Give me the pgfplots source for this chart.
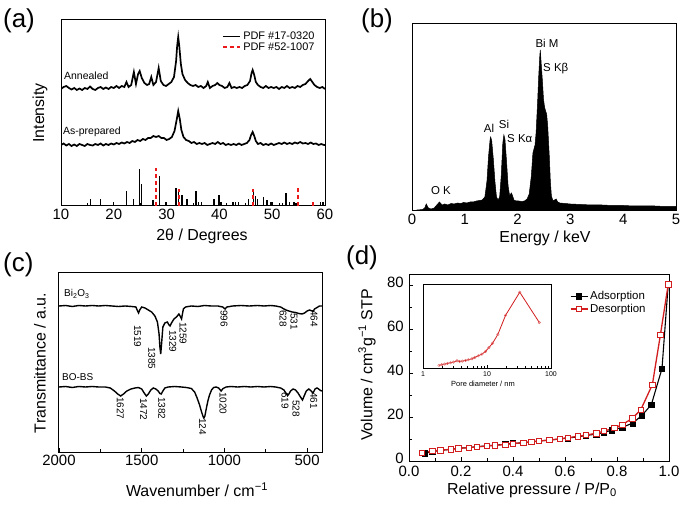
\documentclass[border=0pt]{standalone}
\usepackage{fontspec}
\setmainfont{Liberation Sans}
\usepackage{pgfplots}
\pgfplotsset{compat=1.18}

\definecolor{pdfred}{RGB}{235,25,25}
\definecolor{desred}{RGB}{210,30,30}

\pgfplotsset{
  panel/.style={
    scale only axis, anchor=south west,
    axis line style={line width=1pt},
    tick align=inside,
    xtick pos=left, ytick pos=left,
    major tick length=4bp, minor tick length=2.5bp,
    every tick/.style={line width=0.8pt, black},
    tick label style={font=\fontsize{15}{17}\selectfont},
    /pgf/number format/assume math mode=true,
    /pgf/number format/1000 sep={},
    axis background/.style={fill=white},
  },
}

\begin{document}
\begin{tikzpicture}
\useasboundingbox (0,0) rectangle (685bp,506bp);

% ---------------- (a) XRD
\begin{axis}[panel, at={(61bp,300bp)}, width=264bp, height=186bp,
  xmin=10, xmax=60, ymin=0, ymax=186,
  xtick={10,20,...,60}, minor x tick num=1, ytick=\empty,
  legend style={at={(0.98,0.96)}, anchor=north east, draw=none, fill=none,
    font=\fontsize{11}{13}\selectfont, row sep=-2pt},
  legend cell align=left]
\addlegendimage{black, line width=1.3pt}
\addlegendentry{PDF \#17-0320}
\addlegendimage{color=pdfred, draw=pdfred, line width=2pt, dash pattern=on 4bp off 3bp}
\addlegendentry{PDF \#52-1007}
% annealed
\addplot[black, line width=1.7pt, forget plot] coordinates {
(10,117) (10.5,119) (11,120) (11.5,118) (12,116.5) (12.5,118) (13,116) (13.5,117.5)
(14,116) (14.5,118) (15,117) (15.5,119.5) (16,117) (16.5,116) (17,118) (17.5,119)
(18,117) (18.5,118.5) (19,117) (19.5,119) (20,118) (20.5,120) (21,118) (21.5,120)
(22,119) (22.4,124) (22.8,119) (23.3,121) (23.8,134) (24.2,122) (24.6,132) (24.9,135)
(25.3,128) (25.8,123) (26.3,121) (26.7,122) (27.1,129) (27.5,121) (28.0,124) (28.5,138)
(28.9,125) (29.4,121) (29.9,120) (30.4,122) (30.9,124) (31.4,129) (31.8,145) (32.0,160)
(32.2,169) (32.4,160) (32.7,142) (33.0,132) (33.5,126) (34,123) (34.5,121) (35,120)
(35.5,121) (36,119) (36.5,120) (37,118) (37.5,120) (37.8,124) (38.2,118) (38.7,120)
(39.2,121) (39.6,123) (40,121) (40.5,120) (41,118) (41.5,119) (41.9,123) (42.3,118)
(42.8,119) (43.3,118) (43.8,119) (44.3,118) (44.8,120) (45.3,121) (45.8,125) (46.1,133)
(46.3,136) (46.6,131) (46.9,124) (47.3,121) (47.8,119) (48.3,118) (48.8,120) (49.3,118)
(49.8,119) (50.3,118) (50.8,119) (51.3,117) (51.8,119) (52.3,118) (52.8,120) (53.3,118)
(53.8,119) (54.3,118) (54.8,120) (55.3,119) (55.8,121) (56.3,122) (56.8,125) (57.2,127)
(57.6,124) (58.0,121) (58.5,119) (59,118) (59.5,119) (60,117)};
% as-prepared
\addplot[black, line width=1.7pt, forget plot] coordinates {
(10,61) (10.5,62.5) (11,60.5) (11.5,62) (12,60) (12.5,61.5) (13,60) (13.5,62) (14,61)
(14.5,60) (15,62) (15.5,61) (16,60.5) (16.5,62) (17,61) (17.5,62.5) (18,60.5) (18.5,62)
(19,61) (19.5,62.5) (20,61.5) (20.5,63) (21,62) (21.5,63.5) (22,62.5) (22.5,64) (23,63)
(23.5,65) (24,64) (24.5,66) (25,65) (25.5,67) (26,66) (26.5,68) (27,68) (27.5,70) (28,69)
(28.5,70) (29,68) (29.5,68) (30,66) (30.5,67) (31,69) (31.5,75) (31.9,86) (32.2,95)
(32.5,87) (32.8,76) (33.2,69) (33.7,66) (34.2,65) (34.7,63) (35.2,64) (35.7,62) (36.2,63)
(36.7,62) (37.2,63) (37.7,61) (38.2,62) (38.7,63) (39.2,62) (39.7,64) (40.2,62) (40.7,63)
(41.2,61) (41.7,62) (42.2,61) (42.7,62) (43.2,61) (43.7,62.5) (44.2,61) (44.7,62) (45.2,63)
(45.7,66) (46.0,71) (46.3,74) (46.6,70) (46.9,65) (47.3,62) (47.8,63) (48.3,61) (48.8,62)
(49.3,61) (49.8,62.5) (50.3,61) (50.8,62) (51.3,63) (51.8,62) (52.3,63.5) (52.8,62)
(53.3,63) (53.8,62) (54.3,63.5) (54.8,62.5) (55.3,64) (55.8,62.5) (56.3,63) (56.8,62)
(57.3,63.5) (57.8,62) (58.3,62.5) (58.8,61) (59.3,62) (59.8,61) (60,61)};
% PDF #17-0320 sticks
\addplot[ycomb, black, line width=1.4pt, forget plot] coordinates {
(11,1) (15.6,7) (17.5,7) (19.9,4) (22.4,15) (23.7,7) (24.9,37) (25.2,22) (27.4,6)
(28.6,30) (29.9,4) (31.8,18) (32.2,15) (32.9,11) (33.9,7) (35.6,15) (36.0,4) (36.6,4)
(39.0,7) (39.9,11) (40.3,4) (41.3,3) (42.6,4) (43.0,4) (43.6,4) (45.5,7) (46.5,14)
(46.8,10) (47.2,7) (48.3,9) (49.0,6) (49.8,4) (50.1,4) (51.4,3) (52.0,3) (52.6,13)
(53.3,4) (54.1,4) (54.5,3) (57.6,2) (59.2,4) (59.6,4)};
% PDF #52-1007 sticks
\addplot[ycomb, color=pdfred, draw=pdfred, line width=2pt, dash pattern=on 4bp off 3bp, forget plot] coordinates {
(27.9,38) (32.3,17) (46.3,17) (54.9,20) (57.8,5)};
\end{axis}

% ---------------- (b) EDS
\begin{axis}[panel, at={(412bp,295bp)}, width=264bp, height=187bp,
  xmin=0, xmax=5, ymin=0, ymax=187,
  xtick={0,1,2,3,4,5}, minor x tick num=1, ytick=\empty]
\addplot[fill=black, draw=black, line width=0.5pt] coordinates {
(0,0) (0.05,0.5) (0.1,1) (0.2,1.5) (0.24,3) (0.27,7) (0.31,3) (0.36,2) (0.42,3) (0.47,6)
(0.52,9) (0.57,6) (0.62,7) (0.68,6) (0.74,7.5) (0.8,7) (0.86,8) (0.92,7.5) (0.98,8.5)
(1.04,8) (1.1,9) (1.16,9) (1.22,10) (1.28,10.5) (1.33,11) (1.38,14) (1.42,30) (1.45,55)
(1.48,72) (1.49,74) (1.51,70) (1.54,52) (1.57,30) (1.60,14) (1.63,11) (1.66,14) (1.69,35)
(1.72,68) (1.74,76) (1.76,72) (1.79,50) (1.82,25) (1.85,15) (1.88,18) (1.90,16) (1.93,11)
(1.97,10) (2.02,10) (2.08,9.5) (2.13,10) (2.18,12) (2.22,17) (2.26,35) (2.29,58) (2.31,62)
(2.33,66) (2.35,78) (2.38,110) (2.40,135) (2.42,155) (2.43,161) (2.45,145) (2.47,130)
(2.49,112) (2.51,104) (2.53,100) (2.55,97) (2.57,85) (2.60,55) (2.62,30) (2.64,15)
(2.67,10) (2.70,11) (2.73,12) (2.76,9) (2.8,8) (2.9,7.5) (3.0,7) (3.2,6.5) (3.4,6)
(3.6,6) (3.8,5.5) (4.0,5.5) (4.2,5) (4.4,5) (4.6,5) (4.8,4.5) (5.0,4.5)} \closedcycle;
\end{axis}

% ---------------- (c) FTIR
\begin{axis}[panel, at={(59bp,54bp)}, width=263bp, height=179bp,
  x dir=reverse, xmin=410, xmax=2000, ymin=0, ymax=179,
  xtick={500,1000,1500,2000}, minor xtick={750,1250,1750}, ytick=\empty]
\addplot[black, line width=1.4pt] coordinates {
(2000,146) (1960,146.5) (1920,145.5) (1880,146.5) (1840,146) (1800,146.5) (1760,146)
(1720,146.5) (1680,146) (1640,145.5) (1600,146) (1560,145.5) (1535,145) (1525,141)
(1519,139) (1512,142) (1500,145) (1480,144) (1460,142) (1440,140) (1420,136) (1405,130)
(1395,118) (1390,105) (1385,98) (1380,108) (1372,125) (1360,129) (1345,130) (1335,127)
(1329,126) (1320,129) (1305,133) (1290,135) (1275,138) (1268,136) (1262,134) (1259,133)
(1255,137) (1248,143) (1235,145) (1200,146) (1160,145.5) (1120,146.5) (1080,146)
(1040,146) (1010,145) (996,143) (985,145) (950,146) (900,146.5) (850,146) (800,146.5)
(760,146) (720,146.5) (690,146) (660,145) (640,143) (628,142) (610,141) (590,140)
(570,139.5) (550,138.5) (531,138) (515,139) (500,141) (485,142) (470,141) (464,140.5)
(455,143) (440,144.5) (425,146) (410,146)};
\addplot[black, line width=1.4pt] coordinates {
(2000,65) (1960,65.5) (1920,64.5) (1880,65.5) (1840,65) (1800,65.5) (1760,65) (1720,65)
(1690,64) (1665,61) (1645,58) (1627,56) (1610,58) (1590,61) (1565,63) (1540,64)
(1520,64.5) (1500,63) (1485,59) (1472,56) (1460,58) (1445,62) (1430,64) (1415,63)
(1400,61) (1390,58.5) (1382,58) (1372,61) (1360,64) (1340,65) (1300,65.5) (1260,65)
(1230,64.5) (1200,63.5) (1180,60) (1165,54) (1150,47) (1138,40) (1130,36) (1124,34)
(1118,36) (1110,43) (1100,51) (1090,57) (1078,62) (1065,64.5) (1050,65) (1035,64)
(1020,61) (1008,63.5) (990,65) (960,65.5) (920,65) (880,65.5) (840,65) (800,65.5)
(760,65) (720,65.5) (690,65) (660,64) (640,62) (625,58) (619,56.5) (610,58) (600,61)
(585,63) (570,62) (555,59) (540,55) (528,52) (518,56) (505,61) (490,63) (475,61)
(465,59) (461,60) (452,63) (440,64) (430,63) (420,61.5) (410,61)};
\end{axis}

% ---------------- (d) N2 isotherm
\begin{axis}[panel, at={(409bp,45bp)}, width=260bp, height=187bp,
  xmin=0, xmax=1, ymin=0, ymax=85,
  xtick={0,0.2,0.4,0.6,0.8,1}, minor x tick num=1,
  ytick={0,20,40,60,80}, minor y tick num=1,
  xticklabel style={inner sep=1.5bp, yshift=-3.5bp,
    /pgf/number format/.cd, fixed, fixed zerofill, precision=1},
  yticklabel style={inner sep=1.5bp, xshift=-3.5bp, yshift=3bp},
  legend style={at={(0.93,0.93)}, anchor=north east, draw=none, fill=none,
    font=\fontsize{11.5}{13}\selectfont, row sep=-1pt},
  legend cell align=left]
\addplot[black, line width=1.1pt, mark=square*, mark size=2.7pt,
  mark options={fill=black, line width=0.6pt}] coordinates {
(0.06,3.5) (0.09,4.3) (0.12,4.8) (0.16,5.3) (0.19,5.8) (0.23,6.1) (0.26,6.5) (0.30,6.9)
(0.33,7.2) (0.37,7.6) (0.40,8.0) (0.44,8.3) (0.47,8.7) (0.50,9.1) (0.54,9.5) (0.58,10.0)
(0.61,10.4) (0.65,11.0) (0.68,11.6) (0.72,12.2) (0.75,13.0) (0.78,14.0) (0.82,15.3)
(0.86,17.2) (0.895,20.6) (0.932,25.6) (0.973,42) (0.997,80.3)};
\addlegendentry{Adsorption}
\addplot[desred, line width=1.3pt, mark=square*, mark size=2.7pt,
  mark options={fill=white, draw=desred, line width=0.6pt}] coordinates {
(0.997,80.3) (0.967,57.4) (0.936,34.7) (0.891,23.2) (0.859,19.4) (0.82,16.5) (0.79,15.0)
(0.75,13.6) (0.72,12.6) (0.68,11.8) (0.65,11.2) (0.61,10.6) (0.58,10.1) (0.54,9.5)
(0.50,9.1) (0.47,8.7) (0.44,8.3) (0.40,7.9) (0.37,7.5) (0.33,7.1) (0.30,6.8) (0.26,6.4)
(0.23,6.1) (0.19,5.7) (0.16,5.3) (0.12,4.9) (0.09,4.5) (0.05,3.7)};
\addlegendentry{Desorption}
\end{axis}

% inset: pore size distribution
\begin{axis}[scale only axis, anchor=south west, at={(423bp,138bp)},
  width=128bp, height=84bp, xmode=log, xmin=1, xmax=100, ymin=0, ymax=255,
  axis line style={line width=0.6pt}, tick align=inside, xtick pos=left,
  major tick length=2.5bp, minor tick length=1.5bp,
  every tick/.style={line width=0.5pt, black},
  xtick={1,10,100}, xticklabels={1,10,100}, ytick=\empty,
  tick label style={font=\fontsize{7}{8}\selectfont},
  axis background/.style={fill=white}]
\addplot[desred, line width=0.8pt, mark=o, mark size=1.3pt,
  mark options={line width=0.4pt, draw=desred!70}] coordinates {
(1.78,8) (1.97,10) (2.18,12) (2.41,14) (2.70,16) (3.0,18) (3.40,22) (3.72,20) (4.12,21)
(4.62,23) (5.12,25) (5.82,28) (6.44,32) (7.31,37) (8.31,42) (9.44,50) (10.7,62) (12.2,75)
(14.8,102) (19.5,160) (32.5,230) (65.7,138)};
\end{axis}

% ---------------- labels (pixel coordinates, y down)
\begin{scope}[x=1bp, y=-1bp, shift={(0bp,506bp)}]
\begin{scope}[font=\fontsize{26}{28}\selectfont]
\node[anchor=west, inner sep=0] at (3,21) {(a)};
\node[anchor=west, inner sep=0] at (361,21) {(b)};
\node[anchor=west, inner sep=0] at (3,265) {(c)};
\node[anchor=west, inner sep=0] at (346,258) {(d)};
\end{scope}
\begin{scope}[font=\fontsize{16}{18}\selectfont, inner sep=1bp]
\node at (202,236) {2θ / Degrees};
\node[rotate=90] at (40,113) {Intensity};
\node at (545,238) {Energy / keV};
\node at (197,490) {Wavenumber / cm\textsuperscript{−1}};
\node[rotate=90] at (40,363) {Transmittance / a.u.};
\node at (532,490) {Relative pressure / P/P\textsubscript{0}};
\node[rotate=90] at (367,365) {Volume / cm\textsuperscript{3}g\textsuperscript{−1} STP};
\end{scope}
\begin{scope}[font=\fontsize{10.5}{12}\selectfont]
\node[anchor=west, inner sep=0] at (64,76) {Annealed};
\node[anchor=west, inner sep=0] at (63,132) {As-prepared};
\end{scope}
\begin{scope}[font=\fontsize{11.5}{13}\selectfont, inner sep=0]
\node at (547,43) {Bi M};
\node[anchor=west] at (543,69) {S Kβ};
\node at (489,128) {Al};
\node at (504,124) {Si};
\node[anchor=west] at (507,139) {S Kα};
\node at (441,191) {O K};
\end{scope}
\begin{scope}[font=\fontsize{10}{12}\selectfont, inner sep=0]
\node[anchor=west] at (64,294) {Bi\textsubscript{2}O\textsubscript{3}};
\node[anchor=west] at (62,377) {BO-BS};
\foreach \t/\x/\y in {1519/137.5/325, 1385/151.7/347, 1329/172.7/330, 1259/183/322,
  996/224/310, 628/283/310, 531/294/313, 464/314/310,
  1627/120.3/397, 1472/143.7/398, 1382/161.7/397, 124/202.5/418, 1020/223/392,
  619/285/392, 528/296/400, 461/313.7/392}
  \node[rotate=-90, anchor=west] at (\x,\y) {\t};
\end{scope}
\node[font=\fontsize{7.5}{9}\selectfont] at (483,384) {Pore diameter / nm};
\end{scope}
\end{tikzpicture}
\end{document}
